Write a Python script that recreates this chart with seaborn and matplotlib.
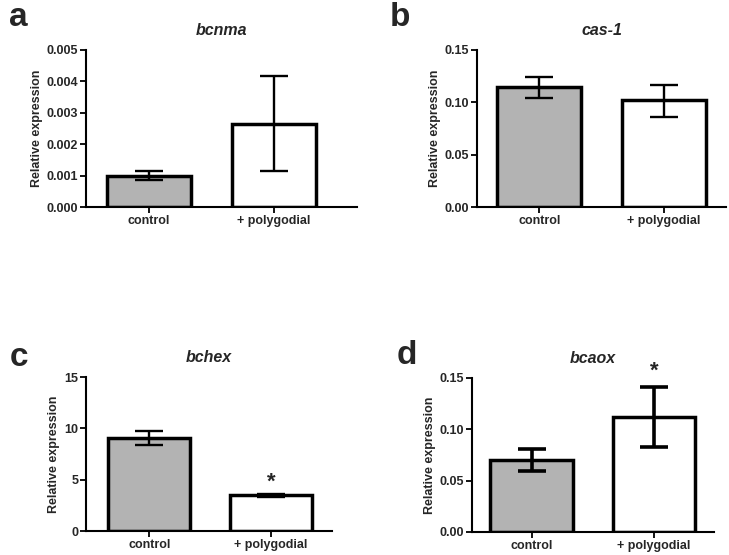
import matplotlib
matplotlib.use("Agg")
import matplotlib.pyplot as plt
import seaborn as sns
import pandas as pd
import numpy as np

sns.set_style("ticks")
plt.rcParams['font.family'] = ['Liberation Sans', 'DejaVu Sans']

categories = ["control", "+ polygodial"]

# panel a: bcnma
a_vals = [0.00100, 0.00265]
a_lo = [0.00085, 0.00115]
a_hi = [0.00115, 0.00418]
# panel b: cas-1
b_vals = [0.115, 0.102]
b_lo = [0.104, 0.086]
b_hi = [0.124, 0.117]
# panel c: bchex
c_vals = [9.1, 3.5]
c_lo = [8.4, 3.3]
c_hi = [9.7, 3.65]
# panel d: bcaox
d_vals = [0.070, 0.112]
d_lo = [0.059, 0.083]
d_hi = [0.081, 0.141]

titles = ["bcnma", "cas-1", "bchex", "bcaox"]
letters = ["a", "b", "c", "d"]
a_ticks = [0, 0.001, 0.002, 0.003, 0.004, 0.005]
b_ticks = [0, 0.05, 0.10, 0.15]
c_ticks = [0, 5, 10, 15]
d_ticks = [0, 0.05, 0.10, 0.15]
star_panels = {2: 1, 3: 1}  # panel index -> category index with asterisk

colors = ["#b3b3b3", "#ffffff"]

W, H = 729, 555
fig = plt.figure(figsize=(W / 100, H / 100), dpi=100)

# axes boxes in pixels: left, right, top, bottom
boxes = [(86, 357, 50, 207), (477, 726, 50, 207), (86, 332, 377, 531), (472, 714, 378, 532)]
xlims = [(-0.506, 1.67), (-0.50, 1.50), (-0.52, 1.50), (-0.486, 1.49)]
fmts = ["{:.3f}", "{:.2f}", "{:.0f}", "{:.2f}"]
letter_pos = [(9, 17), (390, 17), (10, 357), (397, 355)]
star_y = [None, None, 4.8, 0.157]
err_lw = [1.7, 1.7, 1.7, 2.6]
txtc = "#262626"

panels = [(a_vals, a_lo, a_hi, a_ticks), (b_vals, b_lo, b_hi, b_ticks),
          (c_vals, c_lo, c_hi, c_ticks), (d_vals, d_lo, d_hi, d_ticks)]

for i, ((vals, lo, hi, ticks), box) in enumerate(zip(panels, boxes)):
    l, r, t, b = box
    ax = fig.add_axes([l / W, 1 - b / H, (r - l) / W, (b - t) / H])
    df = pd.DataFrame({"cond": categories, "val": vals})
    sns.barplot(data=df, x="cond", y="val", hue="cond", palette=colors, legend=False,
                edgecolor="black", linewidth=2.5, width=0.675, ax=ax)
    vals_a = np.array(vals)
    yerr = np.array([vals_a - np.array(lo), np.array(hi) - vals_a])
    ax.errorbar(np.arange(len(categories)), vals, yerr=yerr, fmt="none",
                ecolor="black", elinewidth=err_lw[i], capsize=10, capthick=err_lw[i], zorder=5)
    ax.set_xlim(*xlims[i])
    ax.set_ylim(ticks[0], ticks[-1])
    ax.set_yticks(ticks)
    ax.set_yticklabels([fmts[i].format(v) for v in ticks], fontsize=9, fontweight="bold",
                       color=txtc)
    ax.set_xticks(range(len(categories)))
    ax.set_xticklabels(categories, fontsize=9, fontweight="bold", color=txtc)
    ax.set_xlabel("")
    ax.set_ylabel("Relative expression", fontsize=9, fontweight="bold", color=txtc, labelpad=3)
    ax.set_title(titles[i], fontsize=11.5, fontweight="bold", style="italic", pad=11,
                 color=txtc)
    for s in ["top", "right"]:
        ax.spines[s].set_visible(False)
    for s in ["left", "bottom"]:
        ax.spines[s].set_linewidth(1.5)
        ax.spines[s].set_color("black")
    ax.tick_params(axis="both", direction="out", length=4, width=1.3, pad=1.5, colors="black",
                   labelcolor=txtc)
    if i in star_panels:
        ax.text(star_panels[i], star_y[i], "*", ha="center", va="center", fontsize=16,
                fontweight="bold", clip_on=False, color=txtc)
    fig.text(letter_pos[i][0] / W, 1 - letter_pos[i][1] / H, letters[i], fontsize=24,
             fontweight="bold", ha="left", va="center")

fig.savefig("out.png", dpi=100)
